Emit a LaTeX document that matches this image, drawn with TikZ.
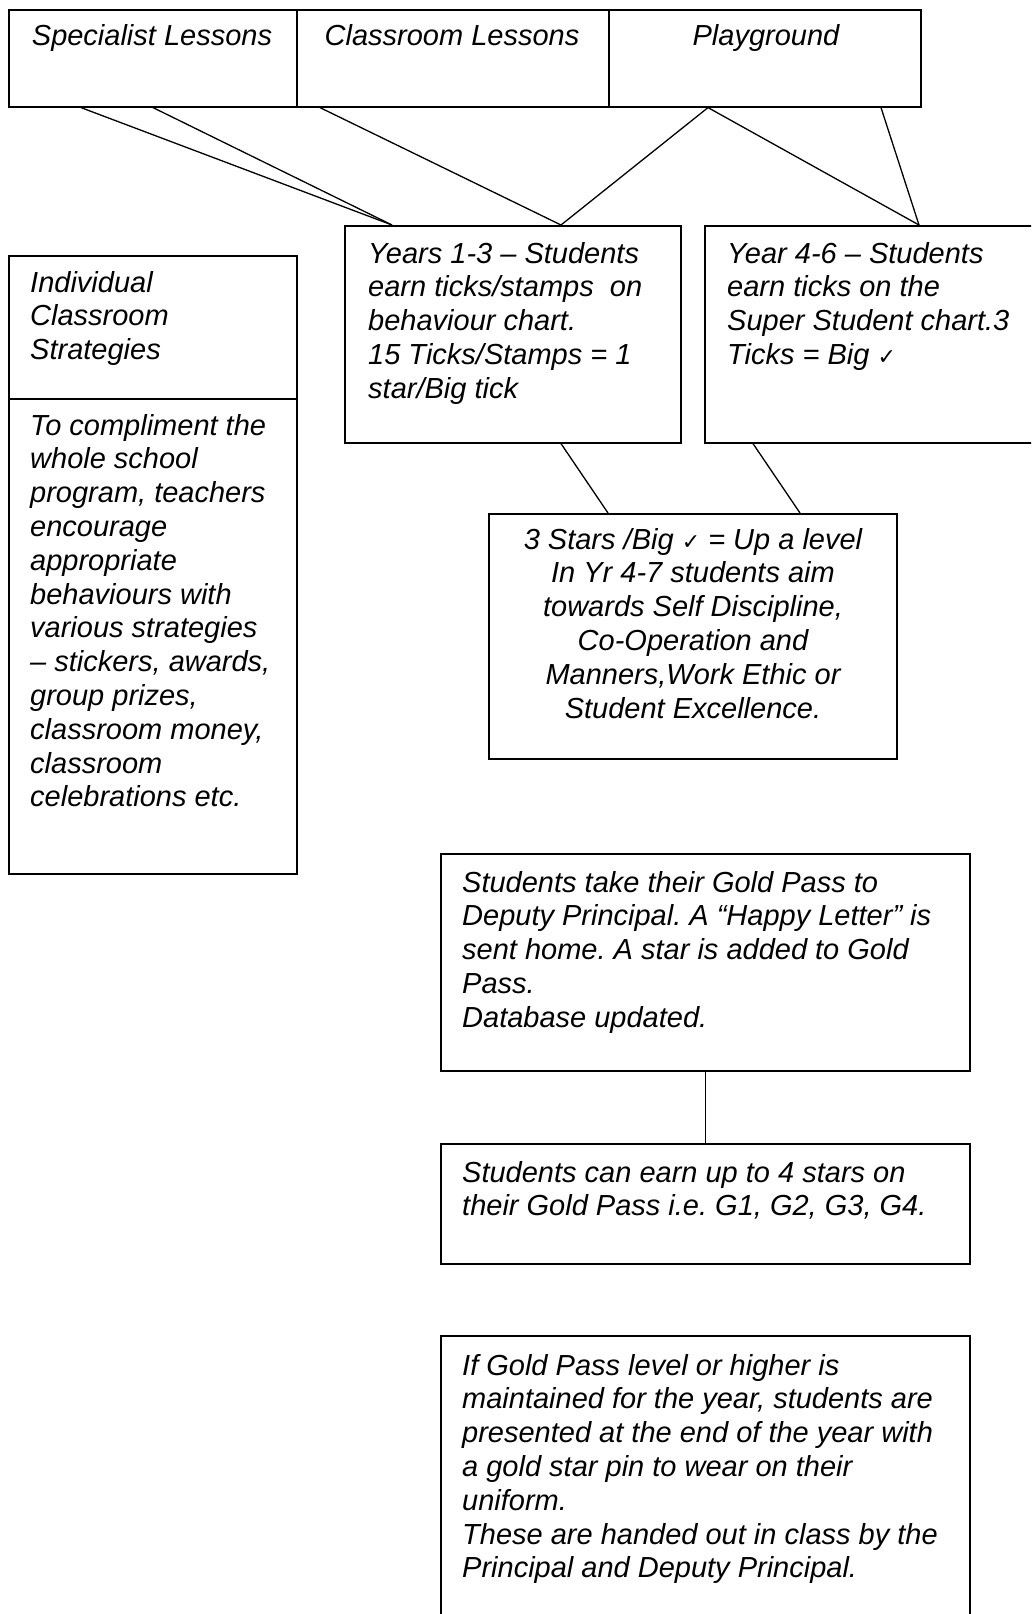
\documentclass[tikz,border=0pt]{standalone}
\usepackage{fontspec}
\setmainfont{Liberation Sans}
\newfontfamily\chkfont{DejaVu Sans}
\newcommand{\chk}{{\chkfont\upshape\fontsize{22}{22}\selectfont ✓}}
\frenchspacing
\begin{document}
\begin{tikzpicture}[x=1pt,y=-1pt,
  box/.style={draw=black,line width=1.6pt,inner sep=0pt,anchor=north west},
  link/.style={draw=black,line width=1.3pt},
  txt/.style={inner sep=0pt,font=\itshape\fontsize{29}{33.8}\selectfont\frenchspacing},
  lefttxt/.style={txt,align=left,anchor=base west},
  midtxt/.style={txt,align=center,anchor=base}]
\useasboundingbox (0,0) rectangle (1031,1614);
\clip (0,0) rectangle (1031,1614);
% boxes
\node[box,minimum width=288pt,minimum height=97pt] (spec) at (8,9) {};
\node[box,minimum width=312pt,minimum height=97pt] (class) at (296,9) {};
\node[box,minimum width=312pt,minimum height=97pt] (play) at (608,9) {};
\node[box,minimum width=288pt,minimum height=143pt] (indtop) at (8,255) {};
\node[box,minimum width=288pt,minimum height=475pt] (indbot) at (8,398) {};
\node[box,minimum width=336pt,minimum height=217pt] (y13) at (344,225) {};
\node[box,minimum width=340pt,minimum height=217pt] (y46) at (704,225) {};
\node[box,minimum width=408pt,minimum height=245pt] (stars) at (488,513) {};
\node[box,minimum width=529pt,minimum height=217pt] (gold) at (440,853) {};
\node[box,minimum width=529pt,minimum height=120pt] (earn) at (440,1143) {};
\node[box,minimum width=529pt,minimum height=300pt] (pin) at (440,1335) {};
% texts (anchored at the baseline of their last line)
\node[midtxt] (tspec) at (152,45) {Specialist Lessons};
\node[midtxt] (tclass) at (452,45) {Classroom Lessons};
\node[midtxt] (tplay) at (766,45) {Playground};
\node[lefttxt] (tindtop) at (30,359.6) {Individual\\Classroom\\Strategies};
\node[lefttxt] (tindbot) at (30,806.8) {To compliment the\\whole school\\program, teachers\\encourage\\appropriate\\behaviours with\\various strategies\\– stickers, awards,\\group prizes,\\classroom money,\\classroom\\celebrations etc.};
\node[lefttxt] (ty13) at (368,398.2) {Years 1-3 – Students\\earn ticks/stamps\ \ on\\behaviour chart.\\15 Ticks/Stamps = 1\\star/Big tick};
\node[lefttxt] (ty46) at (727,364.4) {Year 4-6 – Students\\earn ticks on the\\Super Student chart.3\\Ticks = Big \chk};
\node[midtxt] (tstars) at (693,718) {3 Stars /Big \chk\ = Up a level\\In Yr 4-7 students aim\\towards Self Discipline,\\Co-Operation and\\Manners,Work Ethic or\\Student Excellence.};
\node[lefttxt] (tgold) at (462,1027.2) {Students take their Gold Pass to\\Deputy Principal. A “Happy Letter” is\\sent home. A star is added to Gold\\Pass.\\Database updated.};
\node[lefttxt] (tearn) at (462,1215.8) {Students can earn up to 4 stars on\\their Gold Pass i.e. G1, G2, G3, G4.};
\node[lefttxt] (tpin) at (462,1577.8) {If Gold Pass level or higher is\\maintained for the year, students are\\presented at the end of the year with\\a gold star pin to wear on their\\uniform.\\These are handed out in class by the\\Principal and Deputy Principal.};
% connectors
\draw[link] ([xshift=73pt]spec.south west) -- ([xshift=48pt]y13.north west);
\draw[link] ([xshift=145pt]spec.south west) -- ([xshift=48pt]y13.north west);
\draw[link] ([xshift=24pt]class.south west) -- ([xshift=217pt]y13.north west);
\draw[link] ([xshift=100pt]play.south west) -- ([xshift=217pt]y13.north west);
\draw[link] ([xshift=100pt]play.south west) -- ([xshift=215pt]y46.north west);
\draw[link] ([xshift=273pt]play.south west) -- ([xshift=215pt]y46.north west);
\draw[link] ([xshift=217pt]y13.south west) -- ([xshift=120pt]stars.north west);
\draw[link] ([xshift=49pt]y46.south west) -- ([xshift=312pt]stars.north west);
\draw[link] (gold.south) -- (earn.north);
\end{tikzpicture}
\end{document}
